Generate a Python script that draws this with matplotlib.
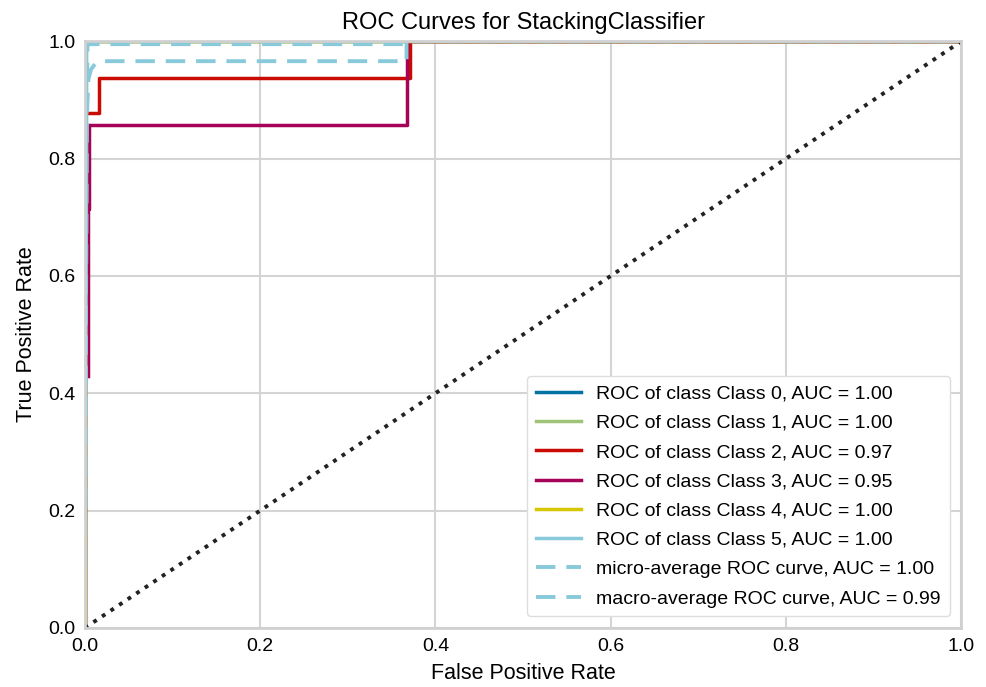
import numpy as np
import matplotlib.pyplot as plt

plt.rcParams['font.family'] = ['Liberation Sans', 'DejaVu Sans']

# ROC points (fpr, tpr)
class_names = ["Class 0", "Class 1", "Class 2", "Class 3", "Class 4", "Class 5"]
class_auc = [1.00, 1.00, 0.97, 0.95, 1.00, 1.00]
class_fpr = [
    [0.0, 0.0, 1.0],
    [0.0, 0.0, 1.0],
    [0.0, 0.0, 0.016, 0.016, 0.371, 0.371, 1.0],
    [0.003, 0.003, 0.003, 0.005, 0.005, 0.367, 0.367, 1.0],
    [0.0, 0.0, 1.0],
    [0.0, 0.002, 0.002, 1.0],
]
class_tpr = [
    [0.0, 1.0, 1.0],
    [0.0, 1.0, 1.0],
    [0.0, 0.877, 0.877, 0.937, 0.937, 1.0, 1.0],
    [0.43, 0.714, 0.714, 0.714, 0.857, 0.857, 1.0, 1.0],
    [0.0, 1.0, 1.0],
    [0.0, 0.84, 1.0, 1.0],
]
micro_auc = 1.00
micro_fpr = [0.0, 0.002, 0.003, 0.367, 0.367, 1.0]
micro_tpr = [0.0, 0.85, 0.995, 0.995, 1.0, 1.0]
macro_auc = 0.99
macro_fpr = [0.0, 0.002, 0.004, 0.007, 0.012, 0.02, 0.367, 0.367, 1.0]
macro_tpr = [0.0, 0.86, 0.935, 0.952, 0.962, 0.966, 0.966, 1.0, 1.0]

colors = ["#0272a2", "#9fc377", "#ca0b03", "#a50258", "#d7c703", "#88cada"]
avg_color = "#88cada"

fig = plt.figure(figsize=(9.87, 6.87), dpi=100)
ax = fig.add_axes([0.086, 0.086, 0.888, 0.854])

for name, auc, fpr, tpr, c in zip(class_names, class_auc, class_fpr, class_tpr, colors):
    ax.plot(fpr, tpr, color=c, lw=2.5,
            label='ROC of class {}, AUC = {:0.2f}'.format(name, auc))

ax.plot(micro_fpr, micro_tpr, color=avg_color, ls='--', lw=2.8, dashes=(5, 2.8),
        label='micro-average ROC curve, AUC = {:0.2f}'.format(micro_auc))
ax.plot(macro_fpr, macro_tpr, color=avg_color, ls='--', lw=2.8, dashes=(5, 2.8),
        label='macro-average ROC curve, AUC = {:0.2f}'.format(macro_auc))

# chance line
ax.plot([0, 1], [0, 1], ls=':', color='#222222', lw=2.8)

ax.set_xlim(0, 1)
ax.set_ylim(0, 1)
ax.set_title('ROC Curves for StackingClassifier', fontsize=17, pad=9)
ax.set_xlabel('False Positive Rate', fontsize=15.5, labelpad=6)
ax.set_ylabel('True Positive Rate', fontsize=15.5, labelpad=8)
ax.tick_params(labelsize=14, length=0, pad=7)

ax.set_facecolor('white')
ax.grid(True, color='#d4d4d4', lw=1.5)
ax.set_axisbelow(True)
for s in ax.spines.values():
    s.set_color('#d0d0d0')
    s.set_linewidth(2)
    s.set_zorder(5)

leg = ax.legend(loc='lower right', fontsize=14, frameon=True, framealpha=1,
                edgecolor='#dddddd', borderpad=0.45, labelspacing=0.6, handlelength=2.3,
                borderaxespad=0.6)

fig.savefig('out.png', dpi=100)
